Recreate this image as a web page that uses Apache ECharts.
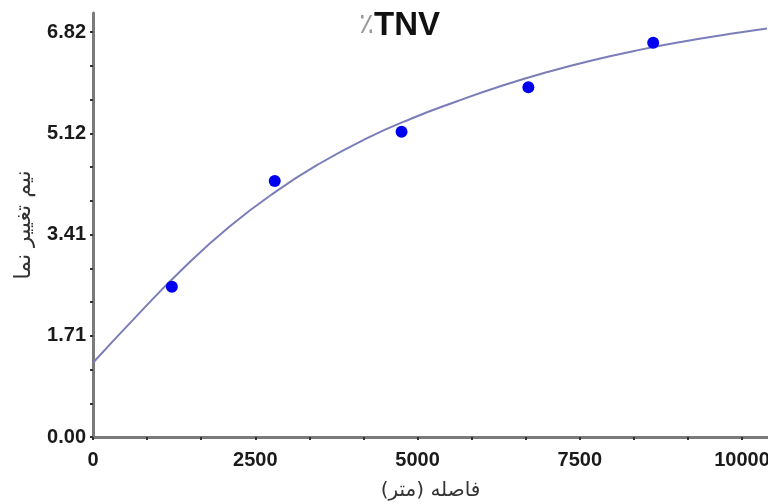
<!DOCTYPE html>
<html>
<head>
<meta charset="utf-8">
<script src="https://cdn.jsdelivr.net/npm/echarts@6/dist/echarts.min.js"></script>
<style>
  html, body { margin: 0; background: #fff; }
  #chart { width: 768px; height: 504px; }
</style>
</head>
<body>
<div id="chart"></div>
<script>
// measured semivariogram points
const sampleDistance = [1215, 2800, 4754, 6708, 8631];
const sampleGamma = [2.53, 4.31, 5.14, 5.89, 6.64];

// fitted model curve, every ~700 m
const modelDistance = [0, 700, 1400, 2100, 2800, 3500, 4200, 4900, 5600, 6300, 7000, 7700, 8400, 9100, 9800, 10385];
const modelGamma = [1.25, 2.07, 2.85, 3.54, 4.12, 4.61, 5.02, 5.36, 5.65, 5.915, 6.145, 6.345, 6.515, 6.66, 6.785, 6.88];

const xTicks = [0, 2500, 5000, 7500, 10000];
const xTickLabels = ['0', '2500', '5000', '7500', '10000'];
const yTicks = [0, 1.705, 3.41, 5.115, 6.82];
const yTickLabels = ['0.00', '1.71', '3.41', '5.12', '6.82'];

// three minor steps per major step
function withMinors(major, max) {
  const step = (major[1] - major[0]) / 3;
  const out = [];
  for (let i = 0; i < major.length; i++) {
    out.push(major[i]);
    for (let k = 1; k < 3; k++) {
      const v = major[i] + step * k;
      if (v < max) out.push(v);
    }
  }
  return out;
}

function labelFor(ticks, labels) {
  return (value) => {
    let best = 0;
    for (let i = 1; i < ticks.length; i++) {
      if (Math.abs(ticks[i] - value) < Math.abs(ticks[best] - value)) best = i;
    }
    return labels[best];
  };
}

const X_MAX = 10400;
const Y_MAX = 7.14;

const axisLine = { lineStyle: { color: '#7a7a7a', width: 3 } };
const axisTick = { length: 3, lineStyle: { color: '#333', width: 2 } };
const tickFont = { color: '#1a1a1a', fontSize: 20, fontFamily: 'Liberation Sans, Arial', fontWeight: 'bold' };

const chart = echarts.init(document.getElementById('chart'));
chart.setOption({
  animation: false,
  title: {
    text: '{p|٪}{t|TNV}',
    left: 354,
    top: 4,
    textStyle: {
      rich: {
        p: { fontSize: 28, color: '#999', fontFamily: 'DejaVu Sans', fontWeight: 'normal' },
        t: { fontSize: 33, color: '#111', fontFamily: 'Liberation Sans, Arial', fontWeight: 'bold' }
      }
    }
  },
  grid: { left: 93, right: 0, top: 13, bottom: 67, outerBoundsMode: 'none' },
  xAxis: {
    type: 'value',
    min: 0,
    max: X_MAX,
    name: 'فاصله (متر)',
    nameLocation: 'middle',
    nameGap: 44,
    nameTextStyle: { fontSize: 20, color: '#333', fontFamily: 'DejaVu Sans' },
    axisLine,
    axisTick: Object.assign({ customValues: withMinors(xTicks, X_MAX) }, axisTick),
    axisLabel: Object.assign({
      customValues: xTicks,
      margin: 13,
      formatter: labelFor(xTicks, xTickLabels)
    }, tickFont),
    splitLine: { show: false }
  },
  yAxis: {
    type: 'value',
    min: 0,
    max: Y_MAX,
    name: 'نیم تغییر نما',
    nameLocation: 'middle',
    nameGap: 58,
    nameRotate: 90,
    nameTextStyle: { fontSize: 22, color: '#333', fontFamily: 'DejaVu Sans' },
    axisLine,
    axisTick: Object.assign({ customValues: withMinors(yTicks, Y_MAX) }, axisTick),
    axisLabel: Object.assign({
      customValues: yTicks,
      margin: 7,
      formatter: labelFor(yTicks, yTickLabels)
    }, tickFont),
    splitLine: { show: false }
  },
  series: [
    {
      type: 'line',
      data: modelDistance.map((d, i) => [d, modelGamma[i]]),
      smooth: true,
      symbol: 'none',
      lineStyle: { color: '#7b7db8', width: 2 },
      z: 2
    },
    {
      type: 'scatter',
      data: sampleDistance.map((d, i) => [d, sampleGamma[i]]),
      symbolSize: 12,
      itemStyle: { color: '#0000f0', opacity: 1 },
      z: 3
    }
  ]
});
</script>
</body>
</html>
